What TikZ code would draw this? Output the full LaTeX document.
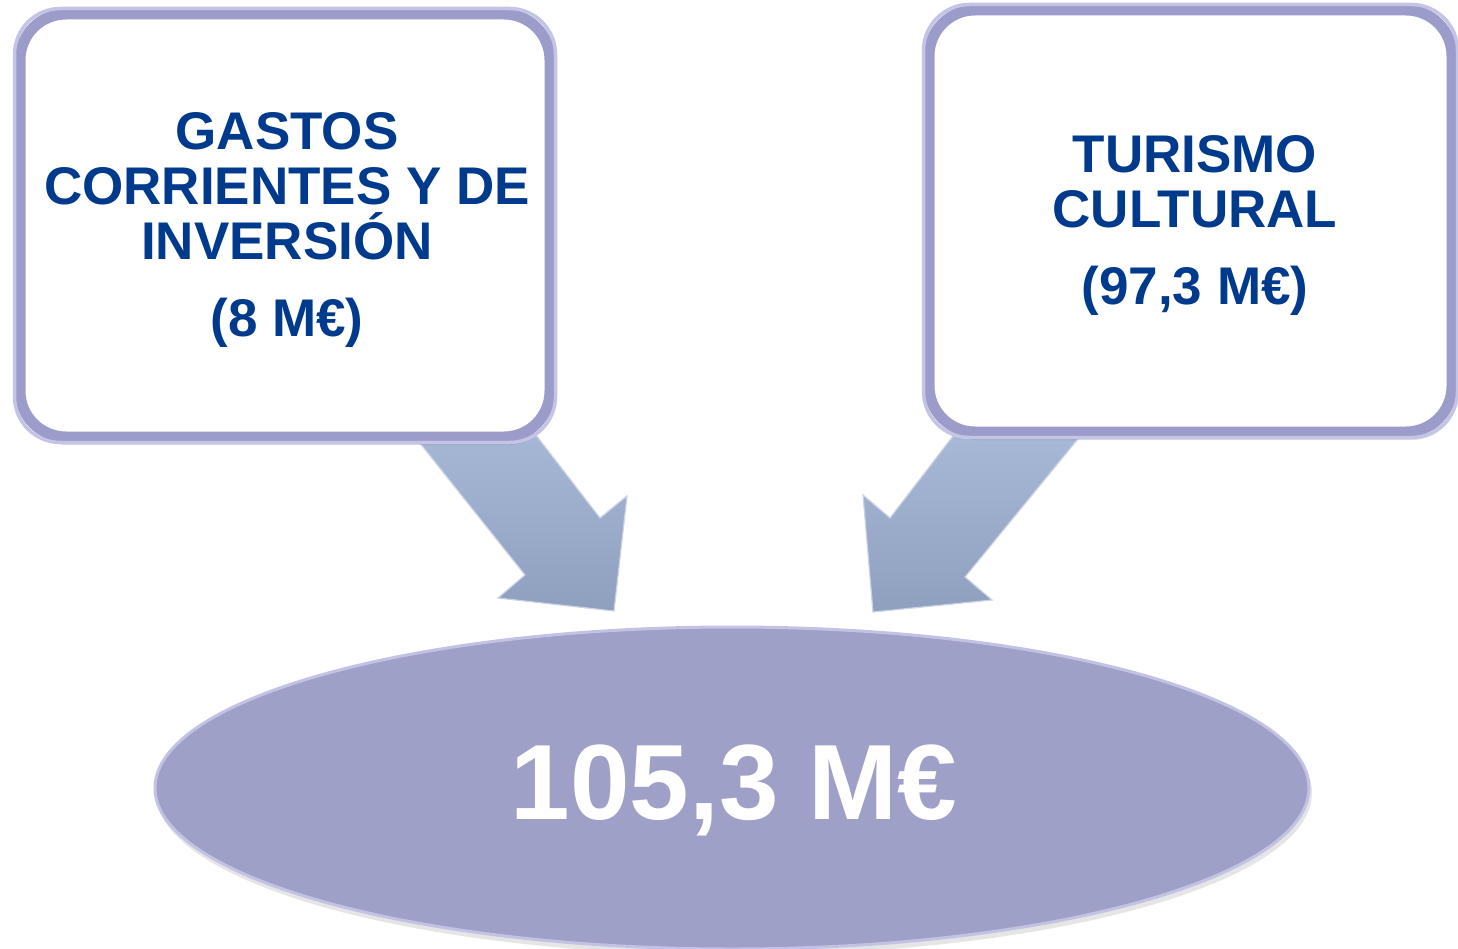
\documentclass[tikz,border=0pt]{standalone}
\usepackage{fontspec}
\setmainfont{Liberation Sans}
\usetikzlibrary{shapes.geometric}
\definecolor{boxrim}{HTML}{9C9CCB}
\definecolor{boxhi}{HTML}{C4C4E6}
\definecolor{txtblue}{HTML}{003A8C}
\definecolor{ellfill}{HTML}{9FA0C7}
\definecolor{ellrim}{HTML}{C2C3E4}
\definecolor{arrtop}{HTML}{AABBD9}
\definecolor{arrbot}{HTML}{8F9FBE}
\definecolor{arredge}{HTML}{C9D2E6}
\tikzset{
  infobox/.style={draw=boxrim, line width=11pt, fill=white, rounded corners=46pt,
    inner sep=0pt},
  boxtext/.style={align=center, text=txtblue, inner sep=0pt,
    font=\bfseries\fontsize{53}{55}\selectfont},
  boxhighlight/.style={draw=boxhi, line width=3.5pt, rounded corners=46pt},
  bigarrow/.style={top color=arrtop, bottom color=arrbot, draw=arredge, line width=1.2pt, line join=miter},
  total/.style={ellipse, fill=ellfill, draw=ellrim, line width=3pt, inner sep=0pt,
    minimum width=1154pt, minimum height=322pt},
}
\begin{document}
\begin{tikzpicture}[x=1pt,y=-1pt]
\useasboundingbox (0,0) rectangle (1458,949);
% arrows (behind boxes)
\shade[bigarrow] (400,418) -- (525,575) -- (498,598) -- (614,611) -- (627,496) -- (600,518) -- (515,408) -- cycle;
\shade[bigarrow] (967,418) -- (890,518) -- (863,495) -- (873,612) -- (992,600) -- (965,577) -- (1095,418) -- cycle;
% shadows
\fill[black,opacity=0.12,rounded corners=46pt] (22,20) rectangle (554,445);
\fill[black,opacity=0.12,rounded corners=46pt] (931,16) rectangle (1458,440);
% boxes
\node[infobox, minimum width=530pt, minimum height=423pt] (left) at (285,225.5) {};
\draw[boxhighlight] (left.north west) rectangle (left.south east);
\node[boxtext] (lefttxt) at (287,230) {GASTOS\\CORRIENTES Y DE\\INVERSIÓN\\[22pt](8 M€)};
\node[infobox, minimum width=523pt, minimum height=422pt] (right) at (1190.5,221) {};
\draw[boxhighlight] (right.north west) rectangle (right.south east);
\node[boxtext] (righttxt) at (1195,225) {TURISMO\\CULTURAL\\[22pt](97,3 M€)};
% ellipse
\fill[black,opacity=0.10] (734,793) ellipse [x radius=578pt, y radius=162pt];
\node[total] (sum) at (732,788) {};
\node[text=white, font=\bfseries\fontsize{107}{107}\selectfont] (sumtxt) at (734,790) {105,3 M€};
\end{tikzpicture}
\end{document}
